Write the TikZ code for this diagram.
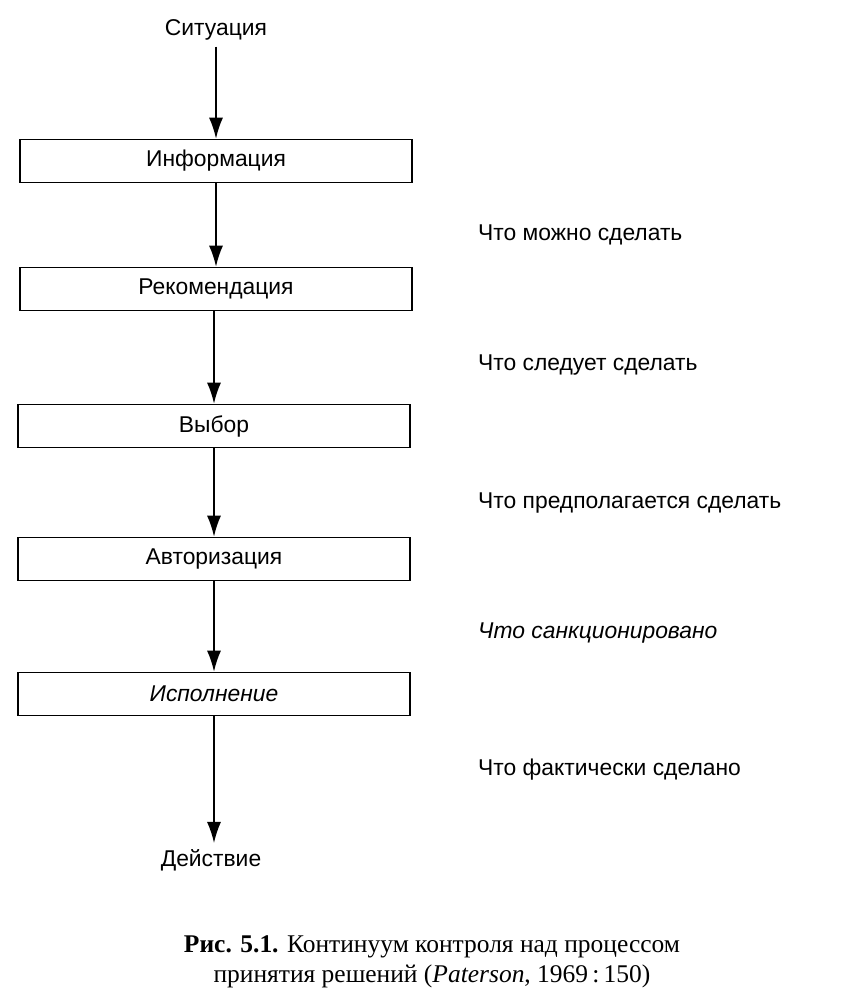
\documentclass[tikz,border=0pt]{standalone}
\usepackage{fontspec}
\setmainfont{Liberation Sans}
\newfontfamily\capfont{Liberation Serif}
\usetikzlibrary{arrows.meta}
\tikzset{
  stage/.style={draw, line width=0.9pt, minimum width=392\unitpx, minimum height=43\unitpx, font=\fontsize{13}{15}\selectfont, inner sep=0pt},
  note/.style={anchor=west, font=\fontsize{13}{15}\selectfont},
  flow/.style={-{Latex[length=12pt,width=8pt]}, line width=0.9pt}
}
\newlength{\unitpx}\setlength{\unitpx}{0.02cm}
\begin{document}
\begin{tikzpicture}[x=0.02cm, y=-0.02cm]
            \useasboundingbox (0,0) rectangle (843,1000);
            % stages
            \node [font=\fontsize{13}{15}\selectfont] (sit) at (216,30) {Ситуация};
            \node [stage] (info) at (216,161) {Информация};
            \node [stage] (rec) at (216,289) {Рекомендация};
            \node [stage] (vyb) at (214,426) {Выбор};
            \node [stage] (avt) at (214,559) {Авторизация};
            \node [stage] (isp) at (214,694) {\itshape Исполнение};
            \node [font=\fontsize{13}{15}\selectfont] (dej) at (211,860) {Действие};

            \draw [flow] (sit) -- (info);
            \draw [flow] (info) -- (rec);
            \draw [flow] (vyb.north |- rec.south) -- (vyb);
            \draw [flow] (vyb) -- (avt);
            \draw [flow] (avt) -- (isp);
            \draw [flow] (isp) -- (isp.south |- dej.north);

            % side notes
            \node [note] (n1) at (472,235) {Что можно сделать};
            \node [note] (n2) at (472,365) {Что следует сделать};
            \node [note] (n3) at (472,503) {Что предполагается сделать};
            \node [note] (n4) at (472,633) {\itshape Что санкционировано};
            \node [note] (n5) at (472,770) {Что фактически сделано};

            % caption
            \node [font=\capfont\fontsize{14.5}{17}\selectfont, align=center] (cap) at (432,962)
              {\textbf{Рис. 5.1.} Континуум контроля над процессом\\
               принятия решений (\textit{Paterson}, 1969\,:\,150)};
\end{tikzpicture}
\end{document}
